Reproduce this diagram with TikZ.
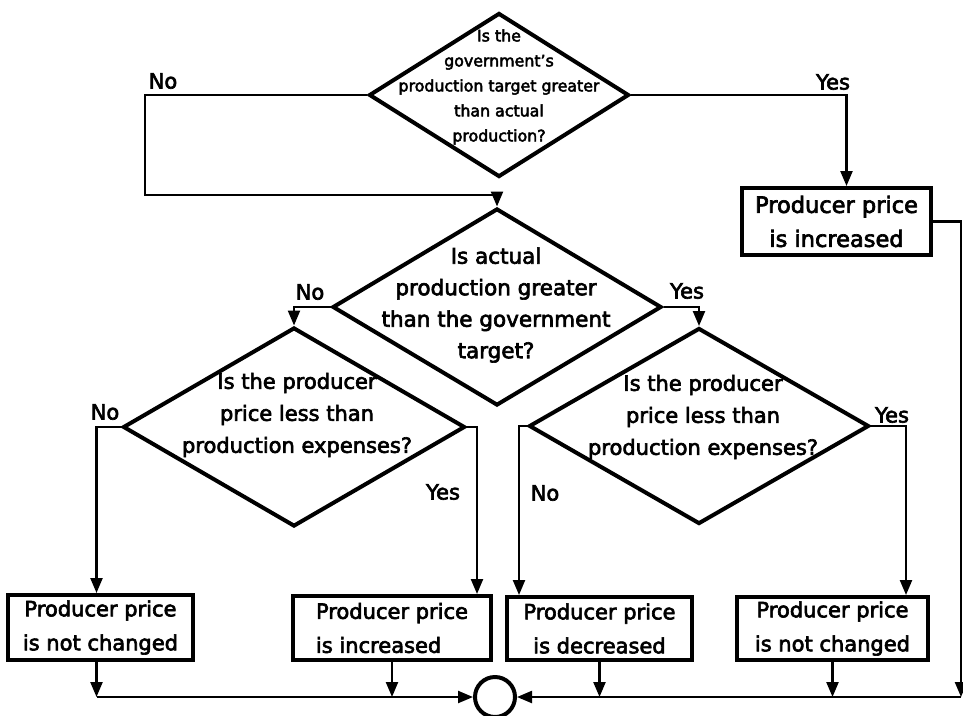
\documentclass[tikz,border=0pt]{standalone}
\usepackage{fontspec}
\setmainfont[FakeBold=3]{DejaVu Sans}
\usetikzlibrary{shapes.geometric,arrows.meta,calc}
\begin{document}
\begin{tikzpicture}[x=1pt,y=-1pt,
  decision/.style={draw,shape=diamond,line width=4pt,inner sep=0pt},
  outcome/.style={draw,rectangle,line width=4pt,inner sep=0pt,
    font=\fontsize{21}{34}\selectfont},
  conn/.style={line width=2.3pt},
  flow/.style={conn,-{Triangle[length=15pt,width=12pt]}},
  qtext/.style={align=center,inner sep=0pt},
  ans/.style={inner sep=0pt,font=\fontsize{21}{24}\selectfont},
]
\useasboundingbox (0,0) rectangle (963,715);

% decisions
\node[decision,minimum width=260pt,minimum height=164pt] (q1) at (499,95) {};
\node[qtext,font=\fontsize{15.8}{25}\selectfont] (q1t) at (499,87)
  {Is the\\government's\\production target greater\\than actual\\production?};

\node[decision,minimum width=329pt,minimum height=197pt] (q2) at (497,307) {};
\node[qtext,font=\fontsize{21.5}{31.5}\selectfont] (q2t) at (496,305)
  {Is actual\\production greater\\than the government\\target?};

\node[decision,minimum width=342pt,minimum height=199pt] (q3) at (294,427) {};
\node[qtext,font=\fontsize{21}{32}\selectfont] (q3t) at (297,415)
  {Is the producer\\price less than\\production expenses?};

\node[decision,minimum width=340pt,minimum height=196pt] (q4) at (699,426) {};
\node[qtext,font=\fontsize{21}{32}\selectfont] (q4t) at (703,417)
  {Is the producer\\price less than\\production expenses?};

% outcomes
\node[outcome,minimum width=189pt,minimum height=67pt,align=center,
  font=\fontsize{22.5}{34}\selectfont] (ptop) at (836.5,221.5)
  {Producer price\\is increased};
\node[outcome,minimum width=185pt,minimum height=65pt,align=center] (b1) at (100.5,627.5)
  {Producer price\\is not changed};
\node[outcome,minimum width=198pt,minimum height=64pt,align=left] (b2) at (392,628)
  {Producer price\\is increased};
\node[outcome,minimum width=185pt,minimum height=63pt,align=center] (b3) at (599.5,628.5)
  {Producer price\\is decreased};
\node[outcome,minimum width=191pt,minimum height=63pt,align=center] (b4) at (832.5,628.5)
  {Producer price\\is not changed};

% junction
\node[draw,circle,line width=4pt,minimum size=40pt,inner sep=0pt] (join) at (495,697) {};

% answers
\node[ans] (lq1n) at (163,81) {No};
\node[ans] (lq1y) at (833,82) {Yes};
\node[ans] (lq2n) at (310,292) {No};
\node[ans] (lq2y) at (687,291) {Yes};
\node[ans] (lq3n) at (105,412) {No};
\node[ans] (lq3y) at (443,492) {Yes};
\node[ans] (lq4n) at (545,493) {No};
\node[ans] (lq4y) at (892,415) {Yes};

% connectors
\coordinate (nobend) at (145,195);
\coordinate (rbend) at (961,697);
\draw[flow] (q1.west) -| (nobend) -| (q2.north);
\draw[flow] (q1.east) -| ($(ptop.north)+(10,0)$);
\draw[flow] (ptop.east) -| (rbend);
\draw[flow] (rbend) -- (join.east);

\draw[flow] (q2.west) -| (q3.north);
\draw[flow] (q2.east) -| (q4.north);

\draw[flow] (q3.west) -| ($(b1.north)+(-4,0)$);
\draw[flow] (q3.east) -| ($(b2.north east)+(-16,0)$);
\draw[flow] (q4.west) -| ($(b3.north west)+(14,0)$);
\draw[flow] (q4.east) -| ($(b4.north east)+(-24,0)$);

\draw[flow] ($(b1.south)+(-4,0)$) -- ($(b1.south |- join.center)+(-4,0)$);
\draw[flow] ($(b1.south |- join.center)+(-4,0)$) -- (join.west);
\draw[flow] (b2.south) -- (b2.south |- join.center);
\draw[flow] (b3.south) -- (b3.south |- join.center);
\draw[flow] (b4.south) -- (b4.south |- join.center);
\end{tikzpicture}
\end{document}
